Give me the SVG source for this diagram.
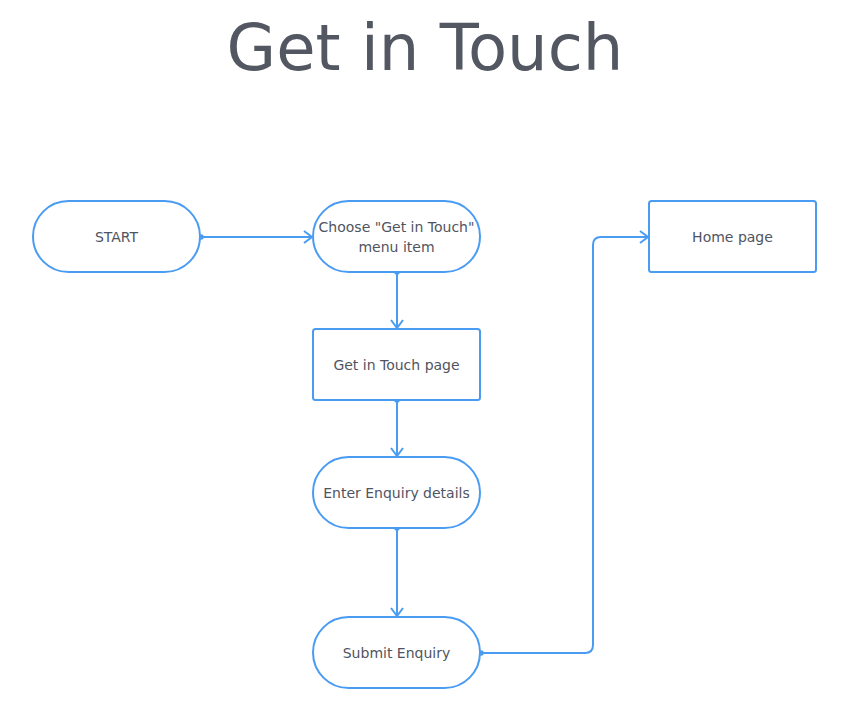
<svg xmlns="http://www.w3.org/2000/svg" width="850" height="722" viewBox="0 0 850 722">
<defs>
<style>
.node{fill:#ffffff;stroke:#4a9cf3;stroke-width:2}
.lbl{font-family:"DejaVu Sans",sans-serif;font-size:14px;fill:#50545f;text-anchor:middle}
.edge{fill:none;stroke:#4a9cf3;stroke-width:2}
.title{font-family:"DejaVu Sans",sans-serif;font-size:64px;fill:#525761;text-anchor:middle}
</style>
<marker id="arr" viewBox="0 0 10 14" refX="9" refY="7" markerWidth="10" markerHeight="14" markerUnits="userSpaceOnUse" orient="auto">
<path d="M1,1 L9,7 L1,13" fill="none" stroke="#4a9cf3" stroke-width="2"/>
</marker>
<marker id="dot" viewBox="0 0 6 6" refX="3" refY="3" markerWidth="6" markerHeight="6" markerUnits="userSpaceOnUse">
<circle cx="3" cy="3" r="2.8" fill="#4a9cf3"/>
</marker>
</defs>
<rect width="850" height="722" fill="#ffffff"/>
<text class="title" x="425" y="70">Get in Touch</text>
<g id="connectors">
<path class="edge" d="M201,237 L312,237" marker-start="url(#dot)" marker-end="url(#arr)"/>
<path class="edge" d="M397,272 L397,328" marker-start="url(#dot)" marker-end="url(#arr)"/>
<path class="edge" d="M397,400 L397,456" marker-start="url(#dot)" marker-end="url(#arr)"/>
<path class="edge" d="M397,528 L397,616" marker-start="url(#dot)" marker-end="url(#arr)"/>
<path class="edge" d="M481,653 L585,653 Q593,653 593,645 L593,245 Q593,237 601,237 L648,237" marker-start="url(#dot)" marker-end="url(#arr)"/>
</g>
<g id="start">
<rect class="node" x="33" y="201" width="167" height="71" rx="35.5"/>
<text class="lbl" x="116.5" y="242">START</text>
</g>
<g id="choose">
<rect class="node" x="313" y="201" width="167" height="71" rx="35.5"/>
<text class="lbl" x="396.5" y="232">Choose "Get in Touch"</text>
<text class="lbl" x="396.5" y="252">menu item</text>
</g>
<g id="home">
<rect class="node" x="649" y="201" width="167" height="71" rx="2.5"/>
<text class="lbl" x="732.5" y="242">Home page</text>
</g>
<g id="touchpage">
<rect class="node" x="313" y="329" width="167" height="71" rx="2.5"/>
<text class="lbl" x="396.5" y="370">Get in Touch page</text>
</g>
<g id="enter">
<rect class="node" x="313" y="457" width="167" height="71" rx="35.5"/>
<text class="lbl" x="396.5" y="498">Enter Enquiry details</text>
</g>
<g id="submit">
<rect class="node" x="313" y="617" width="167" height="71" rx="35.5"/>
<text class="lbl" x="396.5" y="658">Submit Enquiry</text>
</g>
</svg>
